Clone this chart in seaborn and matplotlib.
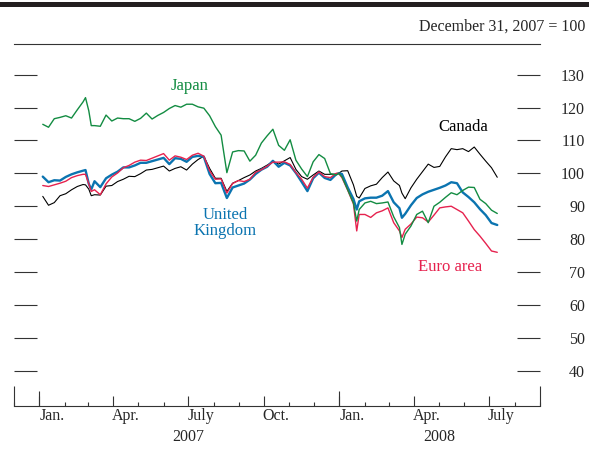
import pandas as pd
import numpy as np
import matplotlib
matplotlib.use('Agg')
import matplotlib.pyplot as plt
import matplotlib.dates as mdates
from matplotlib.patches import Rectangle
import seaborn as sns

# weekly readings (plus a few turning-point days), Dec 31, 2007 = 100
dates = [
    '2007-01-05', '2007-01-12', '2007-01-19', '2007-01-26',
    '2007-02-02', '2007-02-09', '2007-02-16', '2007-02-23', '2007-02-26',
    '2007-03-02', '2007-03-05', '2007-03-09', '2007-03-16', '2007-03-23', '2007-03-30',
    '2007-04-06', '2007-04-13', '2007-04-20', '2007-04-27',
    '2007-05-04', '2007-05-11', '2007-05-18', '2007-05-25',
    '2007-06-01', '2007-06-08', '2007-06-15', '2007-06-22', '2007-06-29',
    '2007-07-06', '2007-07-13', '2007-07-20', '2007-07-27',
    '2007-08-03', '2007-08-10', '2007-08-17', '2007-08-24', '2007-08-31',
    '2007-09-07', '2007-09-14', '2007-09-21', '2007-09-28',
    '2007-10-05', '2007-10-12', '2007-10-19', '2007-10-26',
    '2007-11-02', '2007-11-09', '2007-11-16', '2007-11-23', '2007-11-30',
    '2007-12-07', '2007-12-14', '2007-12-21', '2007-12-28', '2007-12-31',
    '2008-01-04', '2008-01-11', '2008-01-18', '2008-01-22', '2008-01-25',
    '2008-02-01', '2008-02-08', '2008-02-15', '2008-02-22', '2008-02-29',
    '2008-03-07', '2008-03-14', '2008-03-17', '2008-03-21', '2008-03-28',
    '2008-04-04', '2008-04-11', '2008-04-18', '2008-04-25',
    '2008-05-02', '2008-05-09', '2008-05-16', '2008-05-23', '2008-05-30',
    '2008-06-06', '2008-06-13', '2008-06-20', '2008-06-27',
    '2008-07-04', '2008-07-11',
]

japan = [
    114.9, 114.0, 116.6, 117.0,
    117.5, 116.8, 119.3, 121.7, 123.0,
    119.0, 114.5, 114.5, 114.3, 117.7, 115.9,
    116.8, 116.6, 116.6, 115.8,
    116.7, 118.3, 116.5, 117.6,
    118.5, 119.7, 120.6, 120.1, 121.0,
    121.0, 120.2, 119.8, 117.5,
    114.2, 111.6, 100.2, 106.5, 106.9,
    106.8, 103.7, 105.5, 109.2,
    111.4, 113.4, 108.5, 107.0,
    110.2, 104.0, 101.3, 99.0, 103.5,
    105.7, 104.5, 99.9, 99.5, 100.0,
    99.0, 95.0, 91.0, 85.5, 89.0,
    91.0, 91.5, 90.8, 91.0, 91.3,
    86.8, 83.5, 78.4, 81.5, 84.0,
    87.5, 88.5, 85.0, 90.0,
    91.2, 92.7, 94.1, 93.5, 94.8,
    95.8, 95.7, 92.1, 90.8,
    88.8, 87.8,
]

canada = [
    93.0, 90.3, 91.1, 93.2,
    93.8, 95.0, 96.0, 96.6, 96.5,
    95.2, 93.2, 93.5, 93.4, 96.1, 96.3,
    97.5, 98.2, 99.1, 99.0,
    99.9, 101.0, 101.2, 101.7,
    102.2, 100.7, 101.5, 102.0, 101.0,
    102.8, 104.2, 105.2, 101.5,
    98.5, 98.5, 94.5, 97.0, 97.8,
    98.7, 99.5, 100.7, 101.5,
    102.5, 103.6, 102.8, 103.8,
    104.8, 101.2, 99.0, 98.2, 99.5,
    100.7, 99.7, 99.7, 99.8, 100.0,
    100.7, 100.8, 96.5, 93.0, 92.5,
    95.4, 96.2, 96.7, 98.7, 100.4,
    97.7, 96.3, 94.0, 92.3, 95.6,
    98.2, 100.5, 102.8, 101.8,
    102.1, 105.0, 107.5, 107.2, 107.5,
    106.6, 108.0, 105.8, 103.7,
    101.7, 98.8,
]

united_kingdom = [
    99.0, 97.3, 97.9, 97.8,
    98.9, 99.7, 100.3, 100.8, 101.0,
    96.8, 95.1, 97.6, 95.8, 98.5, 99.6,
    100.5, 101.8, 101.8, 102.4,
    103.2, 103.2, 103.7, 104.2,
    104.7, 102.8, 104.6, 104.4, 103.5,
    105.0, 105.3, 105.0, 99.8,
    97.0, 97.1, 92.5, 95.7, 96.3,
    96.9, 98.1, 99.8, 101.1,
    102.0, 103.8, 102.0, 103.2,
    102.4, 100.1, 97.4, 94.6, 98.5,
    100.2, 98.6, 98.0, 99.7, 100.0,
    99.8, 95.7, 92.2, 89.0, 91.5,
    92.4, 92.6, 92.6, 93.2, 94.6,
    91.2, 89.4, 86.5, 87.7, 90.3,
    92.5, 93.6, 94.4, 95.0,
    95.6, 96.3, 97.3, 97.0, 94.2,
    92.8, 91.2, 89.1, 87.3,
    84.9, 84.3,
]

euro_area = [
    96.3, 96.0, 96.5, 97.0,
    97.6, 98.7, 99.3, 99.7, 99.7,
    96.8, 94.5, 95.0, 93.5, 96.8, 98.9,
    100.1, 101.7, 102.4, 103.4,
    104.0, 103.9, 104.6, 105.3,
    106.0, 104.0, 105.3, 104.9, 104.2,
    105.5, 106.1, 105.2, 100.8,
    98.2, 98.3, 94.0, 96.9, 97.8,
    97.5, 98.2, 100.3, 101.1,
    102.2, 103.4, 103.4, 103.5,
    102.7, 100.2, 98.2, 95.5, 98.8,
    100.4, 99.0, 98.7, 100.0, 100.0,
    98.7, 94.9, 90.7, 82.5, 87.5,
    87.5, 86.6, 88.0, 88.6, 89.5,
    85.0, 82.5, 80.5, 83.0, 84.6,
    86.7, 86.5, 85.2, 87.3,
    89.5, 89.8, 90.0, 89.0, 88.0,
    85.5, 82.9, 80.9, 78.7,
    76.4, 76.0,
]

month_labels = ['Jan.', 'Apr.', 'July', 'Oct.', 'Jan.', 'Apr.', 'July']
month_label_dates = ['2007-01-16', '2007-04-16', '2007-07-16', '2007-10-16',
                     '2008-01-16', '2008-04-16', '2008-07-16']
year_labels = ['2007', '2008']
year_label_dates = ['2007-07-01', '2008-05-01']
y_ticks = [40, 50, 60, 70, 80, 90, 100, 110, 120, 130]

colors = {
    'Canada': '#000000',
    'United Kingdom': '#0b74b0',
    'Euro area': '#e6224e',
    'Japan': '#138c42',
}
widths = {'Canada': 0.8, 'United Kingdom': 1.7, 'Euro area': 1.0, 'Japan': 1.0}

df = pd.DataFrame({
    'date': pd.to_datetime(dates),
    'Japan': japan,
    'Canada': canada,
    'United Kingdom': united_kingdom,
    'Euro area': euro_area,
})
long = df.melt(id_vars='date', var_name='series', value_name='index')

sns.set_style('ticks')
plt.rcParams['font.family'] = ['Liberation Serif', 'DejaVu Serif']
plt.rcParams['font.size'] = 11.5

W, H = 589, 449
fig = plt.figure(figsize=(W / 100, H / 100), dpi=100)
ax = fig.add_axes([14 / W, 1 - 406 / H, 526 / W, 362 / H])

# drawing order: Canada underneath, Japan on top
for name in ['Canada', 'United Kingdom', 'Euro area', 'Japan']:
    sns.lineplot(data=long[long['series'] == name], x='date', y='index',
                 color=colors[name], linewidth=widths[name], ax=ax,
                 legend=False, estimator=None)

ax.set_xlim(pd.Timestamp('2006-12-01'), pd.Timestamp('2008-09-01'))
ax.set_ylim(29.3, 139.3)
ax.set_xlabel('')
ax.set_ylabel('')

for side in ['left', 'right']:
    ax.spines[side].set_visible(False)
for side in ['top', 'bottom']:
    ax.spines[side].set_color('#333333')
    ax.spines[side].set_linewidth(0.8)

# y ticks: short dashes inside on both sides, labels on the right
ax.set_yticks(y_ticks)
ax.tick_params(axis='y', which='major', direction='in', length=16.5, width=0.8,
               color='#333333', left=True, right=True, labelleft=False,
               labelright=True, pad=32.4, labelsize=11.5)
for lab in ax.get_yticklabels():
    lab.set_horizontalalignment('right')

# x ticks: quarter ticks, month ticks, taller ones for January and the ends
ax.xaxis.set_major_locator(mdates.MonthLocator(bymonth=[1, 4, 7, 10]))
ax.xaxis.set_minor_locator(mdates.MonthLocator())
ax.xaxis.set_major_formatter(plt.NullFormatter())
ax.xaxis.set_minor_formatter(plt.NullFormatter())
ax.tick_params(axis='x', which='major', direction='in', length=7.2, width=0.8,
               color='#333333', top=False)
ax.tick_params(axis='x', which='minor', direction='in', length=3.2, width=0.8,
               color='#333333', top=False)
xtr = ax.get_xaxis_transform()
ax.vlines(pd.to_datetime(['2007-01-01', '2008-01-01']), 0, 15.5 / 362,
          transform=xtr, color='#333333', linewidth=0.8, clip_on=False)
ax.vlines(pd.to_datetime(['2006-12-01', '2008-09-01']), 0, 20.5 / 362,
          transform=xtr, color='#333333', linewidth=0.8, clip_on=False)

for lab, d in zip(month_labels, month_label_dates):
    ax.text(pd.Timestamp(d), -0.027, lab, transform=xtr, ha='center', va='center',
            fontsize=11.5)
for lab, d in zip(year_labels, year_label_dates):
    ax.text(pd.Timestamp(d), -0.085, lab, transform=xtr, ha='center', va='center',
            fontsize=11.5)

# series labels
ax.text(pd.Timestamp('2007-07-03'), 126.4, 'Japan', color=colors['Japan'],
        ha='center', va='center', fontsize=12)
ax.text(pd.Timestamp('2008-05-31'), 114.0, 'Canada', color=colors['Canada'],
        ha='center', va='center', fontsize=12)
ax.text(pd.Timestamp('2007-08-15'), 84.9, 'United\nKingdom',
        color=colors['United Kingdom'], ha='center', va='center', fontsize=12,
        linespacing=0.95)
ax.text(pd.Timestamp('2008-05-15'), 71.4, 'Euro area', color=colors['Euro area'],
        ha='center', va='center', fontsize=12)

# header
fig.text(585 / W, 1 - 27 / H, 'December 31, 2007 = 100', ha='right', va='center',
         fontsize=11.5)
fig.add_artist(Rectangle((0, 1 - 7 / H), 1, 5 / H, transform=fig.transFigure,
                         color='#231f20', linewidth=0))

fig.savefig('out.png', dpi=100)
